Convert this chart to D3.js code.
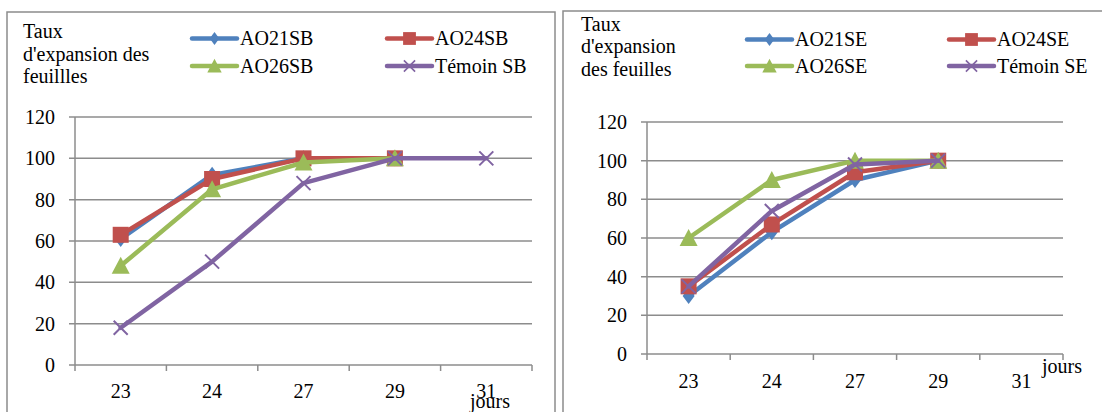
<!DOCTYPE html>
<meta charset="utf-8">
<style>

body {
  margin: 0;
  background: #fff;
}

.panel {
  fill: none;
  stroke: #8c8c8c;
  stroke-width: 1.5px;
}

.grid line {
  stroke: #8c8c8c;
  stroke-width: 1.5px;
}

.serie {
  fill: none;
  stroke-width: 4.5px;
  stroke-linejoin: round;
  stroke-linecap: round;
}

</style>
<svg width="1102" height="412" font-family="'Liberation Serif', 'DejaVu Serif', serif" font-size="20"></svg>
<script src="https://d3js.org/d3.v7.min.js"></script>
<script>

var days = ["23", "24", "27", "29", "31"],
    yTicks = [0, 20, 40, 60, 80, 100, 120],
    colors = ["#4f81bd", "#c0504d", "#9bbb59", "#8064a2"],
    shapes = ["diamond", "square", "triangle", "cross"];

// feuilles SB
var sbNames = ["AO21SB", "AO24SB", "AO26SB", "Témoin SB"];
var sbAO21 = [61, 92, 100, 100],
    sbAO24 = [63, 90, 100, 100],
    sbAO26 = [48, 85, 98, 100],
    sbTemoin = [18, 50, 88, 100, 100];

// feuilles SE
var seNames = ["AO21SE", "AO24SE", "AO26SE", "Témoin SE"];
var seAO21 = [30, 63, 90, 100],
    seAO24 = [35, 67, 94, 100],
    seAO26 = [60, 90, 100, 100],
    seTemoin = [35, 74, 98, 100];

var svg = d3.select("svg");

function marker(sel, shape, color) {
  if (shape == "diamond") {
    sel.append("path").attr("d", "M0,-8L6,0L0,8L-6,0Z").attr("fill", color);
  } else if (shape == "square") {
    sel.append("rect").attr("x", -8).attr("y", -8).attr("width", 16).attr("height", 16).attr("fill", color);
  } else if (shape == "triangle") {
    sel.append("path").attr("d", "M0,-9L9,8L-9,8Z").attr("fill", color);
  } else {
    sel.append("path").attr("d", "M-7,-7L7,7M-7,7L7,-7")
        .attr("stroke", color).attr("stroke-width", 2).attr("fill", "none");
  }
}

function drawPanel(p) {
  var g = svg.append("g");

  g.append("rect").attr("class", "panel")
      .attr("x", p.box[0]).attr("y", p.box[1])
      .attr("width", p.box[2]).attr("height", p.box[3]);

  var x = d3.scaleBand().domain(days).range([p.x0, p.x1]),
      y = d3.scaleLinear().domain([0, 120]).range([p.y0, p.y1]);

  // grid + y labels
  var grid = g.append("g").attr("class", "grid");
  grid.selectAll("line.h")
      .data(yTicks)
    .enter().append("line")
      .attr("x1", p.x0 - 6).attr("x2", p.x1)
      .attr("y1", y).attr("y2", y);
  grid.append("line")
      .attr("x1", p.x0).attr("x2", p.x0)
      .attr("y1", y(0)).attr("y2", y(120));
  grid.selectAll("line.t")
      .data(d3.range(days.length + 1))
    .enter().append("line")
      .attr("x1", function(i) { return p.x0 + i * x.bandwidth(); })
      .attr("x2", function(i) { return p.x0 + i * x.bandwidth(); })
      .attr("y1", y(0)).attr("y2", y(0) + 6);

  g.selectAll("text.y")
      .data(yTicks)
    .enter().append("text")
      .attr("x", p.x0 - 20)
      .attr("y", function(d) { return y(d) + 7; })
      .style("text-anchor", "end")
      .text(function(d) { return d; });

  g.selectAll("text.x")
      .data(days)
    .enter().append("text")
      .attr("x", function(d) { return x(d) + x.bandwidth() / 2; })
      .attr("y", y(0) + p.labelDy)
      .style("text-anchor", "middle")
      .text(function(d) { return d; });

  g.append("text")
      .attr("x", p.jours[0]).attr("y", p.jours[1])
      .text("jours");

  // titre
  g.append("text").selectAll("tspan")
      .data(p.title)
    .enter().append("tspan")
      .attr("x", p.titleX)
      .attr("y", function(d, i) { return p.titleY + i * 22.7; })
      .text(function(d) { return d; });

  var line = d3.line()
      .x(function(d, i) { return x(days[i]) + x.bandwidth() / 2; })
      .y(function(d) { return y(d); });

  p.series.forEach(function(s, k) {
    g.append("path").attr("class", "serie")
        .attr("stroke", colors[k])
        .attr("d", line(s));
    g.selectAll(null)
        .data(s)
      .enter().append("g")
        .attr("transform", function(d, i) { return "translate(" + (x(days[i]) + x.bandwidth() / 2) + "," + y(d) + ")"; })
        .each(function() { marker(d3.select(this), shapes[k], colors[k]); });
  });

  // legende
  p.names.forEach(function(n, k) {
    var lx = p.legX[k % 2], ly = p.legY[Math.floor(k / 2)];
    var lg = g.append("g").attr("transform", "translate(" + lx + "," + ly + ")");
    lg.append("line").attr("x1", 0).attr("x2", 45)
        .attr("stroke", colors[k]).attr("stroke-width", 4.5).attr("stroke-linecap", "round");
    var m = lg.append("g").attr("transform", "translate(22.5,0) scale(0.8)");
    marker(m, shapes[k], colors[k]);
    lg.append("text").attr("x", 48).attr("y", 6.5).text(n);
  });
}

drawPanel({
  box: [7, 12, 548, 420],
  x0: 75, x1: 532, y0: 365, y1: 117,
  labelDy: 33,
  jours: [470, 408],
  title: ["Taux", "d'expansion des", "feuillles"],
  titleX: 23, titleY: 38,
  legX: [192, 387], legY: [38.5, 66],
  names: sbNames,
  series: [sbAO21, sbAO24, sbAO26, sbTemoin]
});

drawPanel({
  box: [563, 11, 560, 420],
  x0: 647, x1: 1063, y0: 354, y1: 122,
  labelDy: 34,
  jours: [1042, 373],
  title: ["Taux", "d'expansion", "des feuilles"],
  titleX: 581, titleY: 30.5,
  legX: [747, 949], legY: [39.5, 66],
  names: seNames,
  series: [seAO21, seAO24, seAO26, seTemoin]
});

</script>
